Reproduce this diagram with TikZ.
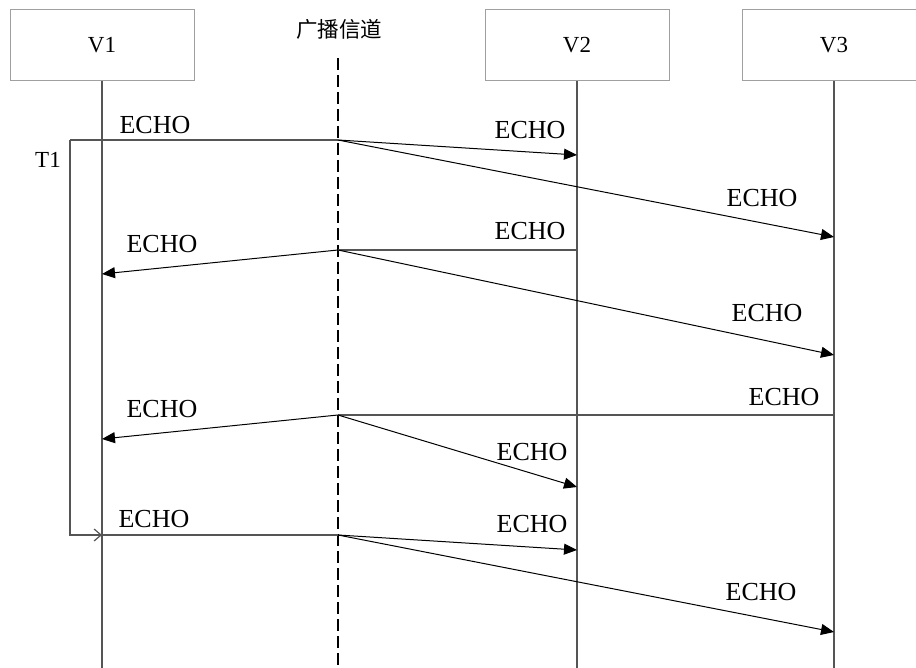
\documentclass[tikz,border=0pt]{standalone}
\usepackage{fontspec}
\setmainfont{Liberation Serif}
\newfontfamily\cjk{Noto Sans CJK SC}
\usetikzlibrary{arrows.meta}
\definecolor{boxgray}{HTML}{A0A0A0}
\definecolor{linegray}{HTML}{555555}
\tikzset{
  station/.style={draw=boxgray, line width=1pt, minimum width=184pt, minimum height=71pt, inner sep=0pt, font=\fontsize{23}{26}\selectfont},
  lifeline/.style={draw=linegray, line width=1.2pt},
  sendline/.style={draw=linegray, line width=1.2pt},
  msg/.style={line width=1pt, -{Triangle[length=13pt,width=11pt]}},
  echo/.style={inner sep=0pt, font=\fontsize{26}{30}\selectfont},
}
\begin{document}
\begin{tikzpicture}[x=1pt,y=-1pt]
\useasboundingbox (0,0) rectangle (916,668);

% stations and the channel
\node[station] (v1) at (102,45) {V1};
\node[station] (v2) at (577,45) {V2};
\node[station] (v3) at (834,45) {V3};
\node[inner sep=0pt, font=\cjk\fontsize{21.5}{24}\selectfont] (chan) at (339,29) {广播信道};

\coordinate (v1end) at (102,668);
\coordinate (v2end) at (577,668);
\coordinate (v3end) at (834,668);
\coordinate (chtop) at (338,58);
\coordinate (chend) at (338,668);

\draw[lifeline] (v1.south) -- (v1end);
\draw[lifeline] (v2.south) -- (v2end);
\draw[lifeline] (v3.south) -- (v3end);
\draw[line width=1.5pt, dash pattern=on 12pt off 5pt] (chtop) -- (chend);

% points on the channel
\coordinate (c1) at (338,140);
\coordinate (c2) at (338,250);
\coordinate (c3) at (338,415);
\coordinate (c4) at (338,535);

% 1: V1 sends
\coordinate (t1) at (70,140);
\coordinate (a1) at (577,155);
\coordinate (b1) at (834,237);
\draw[sendline] (t1) -- (c1);
\draw[msg] (c1) -- (a1);
\draw[msg] (c1) -- (b1);
\node[echo] (e1s) at (155,125) {ECHO};
\node[echo] (e1a) at (530,130) {ECHO};
\node[echo] (e1b) at (762,198) {ECHO};

% 2: V2 sends
\coordinate (s2) at (577,250);
\coordinate (a2) at (102,274);
\coordinate (b2) at (834,355);
\draw[sendline] (s2) -- (c2);
\draw[msg] (c2) -- (a2);
\draw[msg] (c2) -- (b2);
\node[echo] (e2s) at (530,231) {ECHO};
\node[echo] (e2a) at (162,244) {ECHO};
\node[echo] (e2b) at (767,313) {ECHO};

% 3: V3 sends
\coordinate (s3) at (834,415);
\coordinate (a3) at (102,439);
\coordinate (b3) at (577,487);
\draw[sendline] (s3) -- (c3);
\draw[msg] (c3) -- (a3);
\draw[msg] (c3) -- (b3);
\node[echo] (e3s) at (784,397) {ECHO};
\node[echo] (e3a) at (162,409) {ECHO};
\node[echo] (e3b) at (532,452) {ECHO};

% 4: V1 sends again after T1
\coordinate (s4) at (102,535);
\coordinate (a4) at (577,550);
\coordinate (b4) at (834,632);
\draw[sendline, -{Straight Barb[length=7pt,width=12pt]}] (t1) |- (s4);
\draw[sendline] (s4) -- (c4);
\draw[msg] (c4) -- (a4);
\draw[msg] (c4) -- (b4);
\node[echo] (e4s) at (154,519) {ECHO};
\node[echo] (e4a) at (532,524) {ECHO};
\node[echo] (e4b) at (761,592) {ECHO};
\node[inner sep=0pt, font=\fontsize{23}{26}\selectfont] (t1lab) at (48,160) {T1};

\end{tikzpicture}
\end{document}
